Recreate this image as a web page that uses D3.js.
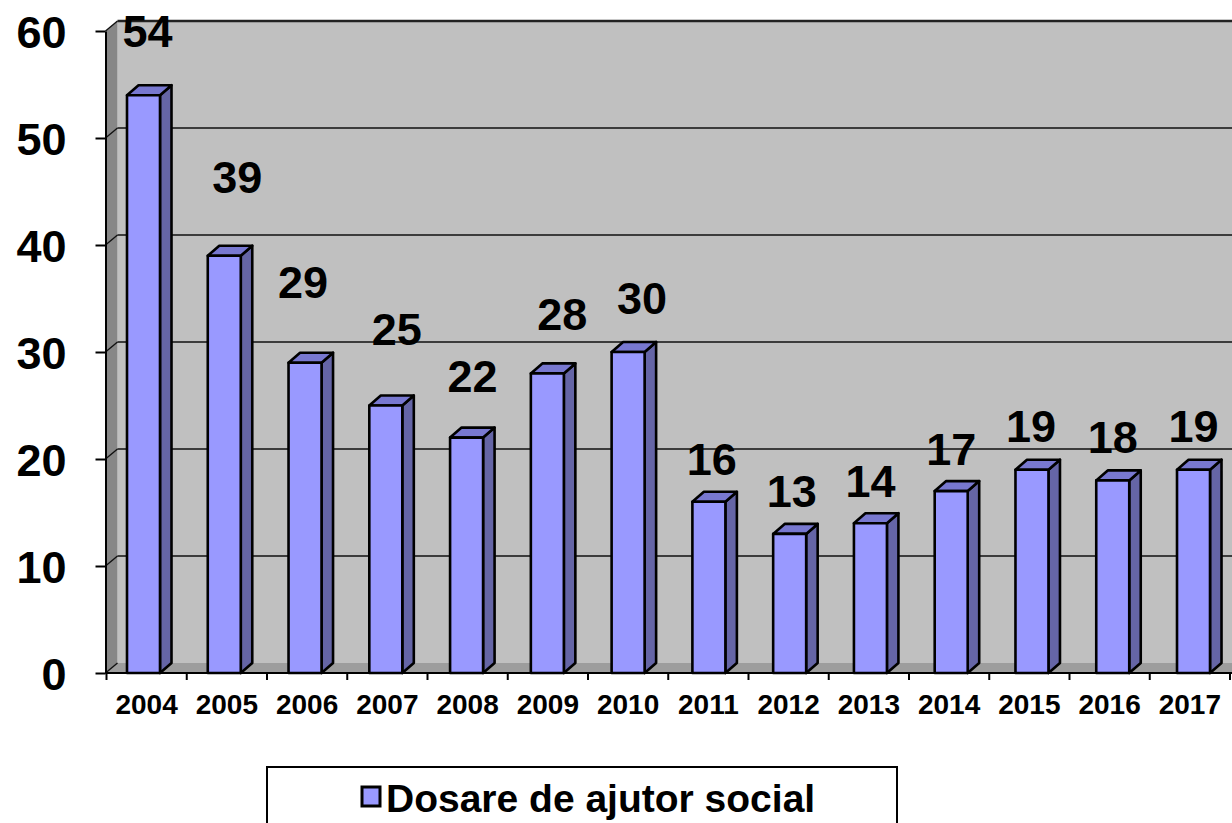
<!DOCTYPE html>
<html>
<head>
<meta charset="utf-8">
<script src="https://cdn.jsdelivr.net/npm/d3@7"></script>
<style>
  body { margin: 0; background: #fff; }
  text { font-family: "Liberation Sans", Arial, sans-serif; font-weight: bold; }
</style>
</head>
<body>
<div id="chart"></div>
<script>
// data
const years = ["2004", "2005", "2006", "2007", "2008", "2009", "2010",
               "2011", "2012", "2013", "2014", "2015", "2016", "2017"];
const dosare = [54, 39, 29, 25, 22, 28, 30, 16, 13, 14, 17, 19, 18, 19];
const yTicks = [0, 10, 20, 30, 40, 50, 60];
const seriesName = "Dosare de ajutor social";

const width = 1232, height = 823;
const svg = d3.select("#chart").append("svg")
    .attr("width", width)
    .attr("height", height);

// scales
const y = d3.scaleLinear().domain([0, 60]).range([673, 31]);
const xAxis = d3.scaleBand().domain(years).range([106.5, 1230]);
const xBar = d3.scaleBand().domain(years).range([127, 127 + 14 * 80.77]);
const barW = 33;
const bdx = 11.5, bdy = 10;   // bar depth
const wdx = 12, wdy = 10;     // wall depth
const axisX = 105.5;

// back wall
svg.append("rect")
    .attr("x", axisX + wdx).attr("y", y(60) - wdy)
    .attr("width", width - axisX).attr("height", y(0) - y(60))
    .attr("fill", "#c0c0c0");

// left wall
svg.append("path")
    .attr("d", `M${axisX},${y(0)}L${axisX},${y(60)}L${axisX + wdx},${y(60) - wdy}L${axisX + wdx},${y(0) - wdy}Z`)
    .attr("fill", "#878787");

// floor
svg.append("path")
    .attr("d", `M${axisX},${y(0)}L${axisX + wdx},${y(0) - wdy}L${width},${y(0) - wdy}L${width},${y(0)}Z`)
    .attr("fill", "#9d9d9d");

// gridlines: back wall + slanted part on left wall
const grid = svg.append("g").attr("class", "grid");
grid.selectAll("line.back")
  .data(yTicks.filter(d => d > 0))
  .enter().append("line")
    .attr("class", "back")
    .attr("x1", axisX + wdx).attr("x2", width)
    .attr("y1", d => y(d) - wdy).attr("y2", d => y(d) - wdy)
    .attr("stroke", d => d === 60 ? "#222" : "#111")
    .attr("stroke-width", d => d === 60 ? 2.5 : 1.6);
grid.selectAll("line.side")
  .data(yTicks)
  .enter().append("line")
    .attr("class", "side")
    .attr("x1", axisX).attr("y1", d => y(d))
    .attr("x2", axisX + wdx).attr("y2", d => y(d) - wdy)
    .attr("stroke", "#111")
    .attr("stroke-width", 1.4);

// bars
const bars = svg.append("g").attr("class", "bars")
  .selectAll("g")
  .data(years.map((yr, i) => ({ yr, v: dosare[i] })))
  .enter().append("g");

const bx = d => xBar(d.yr);
const by = d => y(d.v);

bars.append("path")   // side
    .attr("d", d => `M${bx(d) + barW},${by(d)}L${bx(d) + barW + bdx},${by(d) - bdy}` +
                    `L${bx(d) + barW + bdx},${y(0) - bdy}L${bx(d) + barW},${y(0)}Z`)
    .attr("fill", "#6565a6");
bars.append("path")   // top
    .attr("d", d => `M${bx(d)},${by(d)}L${bx(d) + bdx},${by(d) - bdy}` +
                    `L${bx(d) + barW + bdx},${by(d) - bdy}L${bx(d) + barW},${by(d)}Z`)
    .attr("fill", "#7878d0");
bars.append("rect")   // front
    .attr("x", bx)
    .attr("y", by)
    .attr("width", barW)
    .attr("height", d => y(0) - by(d))
    .attr("fill", "#9999ff");
bars.selectAll("path, rect")
    .attr("stroke", "#000")
    .attr("stroke-width", 2.6)
    .attr("stroke-linejoin", "round");

// value labels (nudged the way the original chart has them)
const labelNudge = [[4, 21], [13, 36], [-2, 38], [11, 34], [6, 19], [15, 16], [14, 11],
                    [3, 0], [2, 0], [0, -1], [0, -1], [-1, 1], [0, 0], [0, 1]];
bars.append("text")
    .attr("x", (d, i) => bx(d) + barW / 2 + labelNudge[i][0])
    .attr("y", (d, i) => by(d) - 27 - labelNudge[i][1])
    .attr("text-anchor", "middle")
    .attr("font-size", 45)
    .text(d => d.v);

// y axis
const gy = svg.append("g")
    .attr("transform", `translate(${axisX},0)`)
    .call(d3.axisLeft(y).tickValues(yTicks).tickSize(10).tickPadding(29).tickSizeOuter(0));
gy.select(".domain").attr("stroke", "#000").attr("stroke-width", 2);
gy.selectAll(".tick line").attr("stroke", "#000").attr("stroke-width", 2);
gy.selectAll(".tick text")
    .attr("font-size", 45)
    .attr("fill", "#000")
    .attr("dy", "0.36em");

// x axis line and boundary ticks
svg.append("line")
    .attr("x1", axisX).attr("x2", width)
    .attr("y1", y(0)).attr("y2", y(0))
    .attr("stroke", "#000").attr("stroke-width", 2);
svg.append("g").selectAll("line")
  .data(years.concat(["end"]))
  .enter().append("line")
    .attr("x1", (d, i) => xAxis.range()[0] + i * xAxis.step())
    .attr("x2", (d, i) => xAxis.range()[0] + i * xAxis.step())
    .attr("y1", y(0)).attr("y2", y(0) + 7)
    .attr("stroke", "#000").attr("stroke-width", 2);

// x labels
svg.append("g").selectAll("text")
  .data(years)
  .enter().append("text")
    .attr("x", d => xAxis(d) + xAxis.bandwidth() / 2)
    .attr("y", 714)
    .attr("text-anchor", "middle")
    .attr("font-size", 28)
    .text(d => d);

// legend
const lg = svg.append("g");
lg.append("rect")
    .attr("x", 267).attr("y", 767)
    .attr("width", 630).attr("height", 80)
    .attr("fill", "#fff").attr("stroke", "#000").attr("stroke-width", 2);
lg.append("rect")
    .attr("x", 362).attr("y", 787)
    .attr("width", 18).attr("height", 19)
    .attr("fill", "#9999ff").attr("stroke", "#000").attr("stroke-width", 3);
lg.append("text")
    .attr("x", 386).attr("y", 812)
    .attr("font-size", 39)
    .text(seriesName);
</script>
</body>
</html>
